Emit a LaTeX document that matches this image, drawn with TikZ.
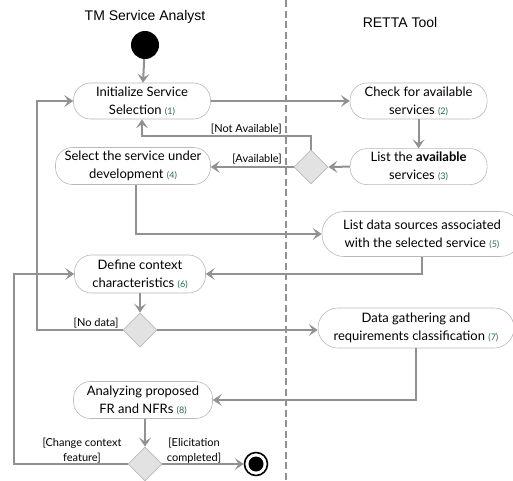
\documentclass[tikz,border=0pt]{standalone}
\usepackage{fontspec}
\usepackage{tikz}
\usetikzlibrary{arrows.meta,positioning,shapes.geometric,calc}
\setmainfont{Lato}
\newfontfamily\lanefont{Liberation Sans}
\definecolor{linegray}{RGB}{145,145,145}
\definecolor{bordergray}{RGB}{185,185,185}
\definecolor{choicefill}{RGB}{226,226,226}
\definecolor{stepgreen}{RGB}{40,105,85}
\newcommand{\stepno}[1]{{\fontsize{9}{9}\selectfont\color{stepgreen}(#1)}}

\begin{document}
\begin{tikzpicture}[x=1pt, y=1pt, node distance=29pt and 139pt,
			lane/.style={draw=none, font=\lanefont\fontsize{14}{16}\selectfont},
			act/.style={draw=bordergray, line width=0.6pt, rectangle, rounded corners=17pt, minimum height=36pt, align=center, inner sep=1pt, font=\fontsize{13}{18}\selectfont},
			choice/.style={draw=bordergray, line width=0.8pt, diamond, aspect=1, fill=choicefill, minimum size=34pt, inner sep=0pt},
			guard/.style={draw=none, align=center, inner sep=1pt, font=\fontsize{11}{15}\selectfont},
			startnode/.style={circle, fill=black, minimum size=28pt, inner sep=0pt},
			stopnode/.style={circle, draw=black, line width=1.6pt, minimum size=23pt, inner sep=0pt, path picture={\fill[black] (path picture bounding box.center) circle (7.5pt);}},
			flow/.style={draw=linegray, line width=2pt, -{Stealth[inset=4pt, length=9pt, width=12pt]}},
			lanesep/.style={draw=linegray, line width=1.4pt, dash pattern=on 7pt off 3.5pt}
			]
			\useasboundingbox (0,0) rectangle (513,-480);
			
			\node[lane](lane1) at (145,-17) {TM Service Analyst};
			\node[lane](lane2) at (400,-22) {RETTA Tool};
			\draw[lanesep] (286,0) -- (286,-480);
			
			\node[startnode](start) at (145,-45) {};
			\node[act, minimum width=137pt](init) at (142,-101) {Initialize Service\\Selection \stepno{1}};
			\node[act, minimum width=137pt](check) [right = of init] {Check for available\\services \stepno{2}};
			\node[act, minimum width=137pt](listav) [below = of check] {List the \textbf{available}\\services \stepno{3}};
			\node[choice](dec1) at (311,-167) {};
			\node[act, minimum width=155pt, minimum height=37pt](select) at (133,-166) {Select the service under\\development \stepno{4}};
			\node[act, minimum width=200pt, minimum height=45pt, rounded corners=22pt](sources) at (422,-234) {List data sources associated\\with the selected service \stepno{5}};
			\node[act, minimum width=131pt, minimum height=38pt](context) at (140,-274) {Define context\\characteristics \stepno{6}};
			\node[choice](dec2) at (140,-330) {};
			\node[act, minimum width=196pt, minimum height=40pt, rounded corners=20pt](gather) at (416,-328) {Data gathering and\\requirements classification \stepno{7}};
			\node[act, minimum width=139pt, minimum height=37pt](analyze) at (143,-400) {Analyzing proposed\\FR and NFRs \stepno{8}};
			\node[choice](dec3) at (145,-464) {};
			\node[stopnode](stop) at (256,-464) {};
			
			\coordinate (na) at (142,-136);
			\coordinate (loopa) at (37,-101);
			\coordinate (loopb) at (14,-274);
			
			\node[guard, anchor=south east](lna) at (283,-135) {[Not Available]};
			\node[guard, anchor=south east](lav) at (283,-165) {[Available]};
			\node[guard, anchor=south east](lnd) at ([xshift=-3pt, yshift=1pt]dec2.west) {[No data]};
			\node[guard](lchange) at (82,-451) {[Change context\\feature]};
			\node[guard](ldone) at (194,-451) {[Elicitation\\completed]};
			
			\draw [flow] (start) to (init);
			\draw [flow] (init.east) to (check.west);
			\draw [flow] (check) to (listav);
			\draw [flow] (listav.west) to (dec1.east);
			\draw [flow] (dec1.west) to (dec1.west -| select.east);
			\draw [flow] (dec1.north) |- (na) -- (init.south);
			\draw [flow] ([xshift=3pt]select.south) |- (sources.west);
			\draw [flow] (sources.south) |- (context.east);
			\draw [flow] (context) to (dec2);
			\draw [flow] (dec2.east) to (dec2.east -| gather.west);
			\draw [flow] (dec2.west) -| (loopa) -- (init.west);
			\draw [flow] (gather.south) |- (analyze.east);
			\draw [flow] (analyze.south -| dec3.north) to (dec3.north);
			\draw [flow] (dec3.west) -| (loopb) -- (context.west);
			\draw [flow] (dec3.east) to (stop.west);
			
\end{tikzpicture}
\end{document}
